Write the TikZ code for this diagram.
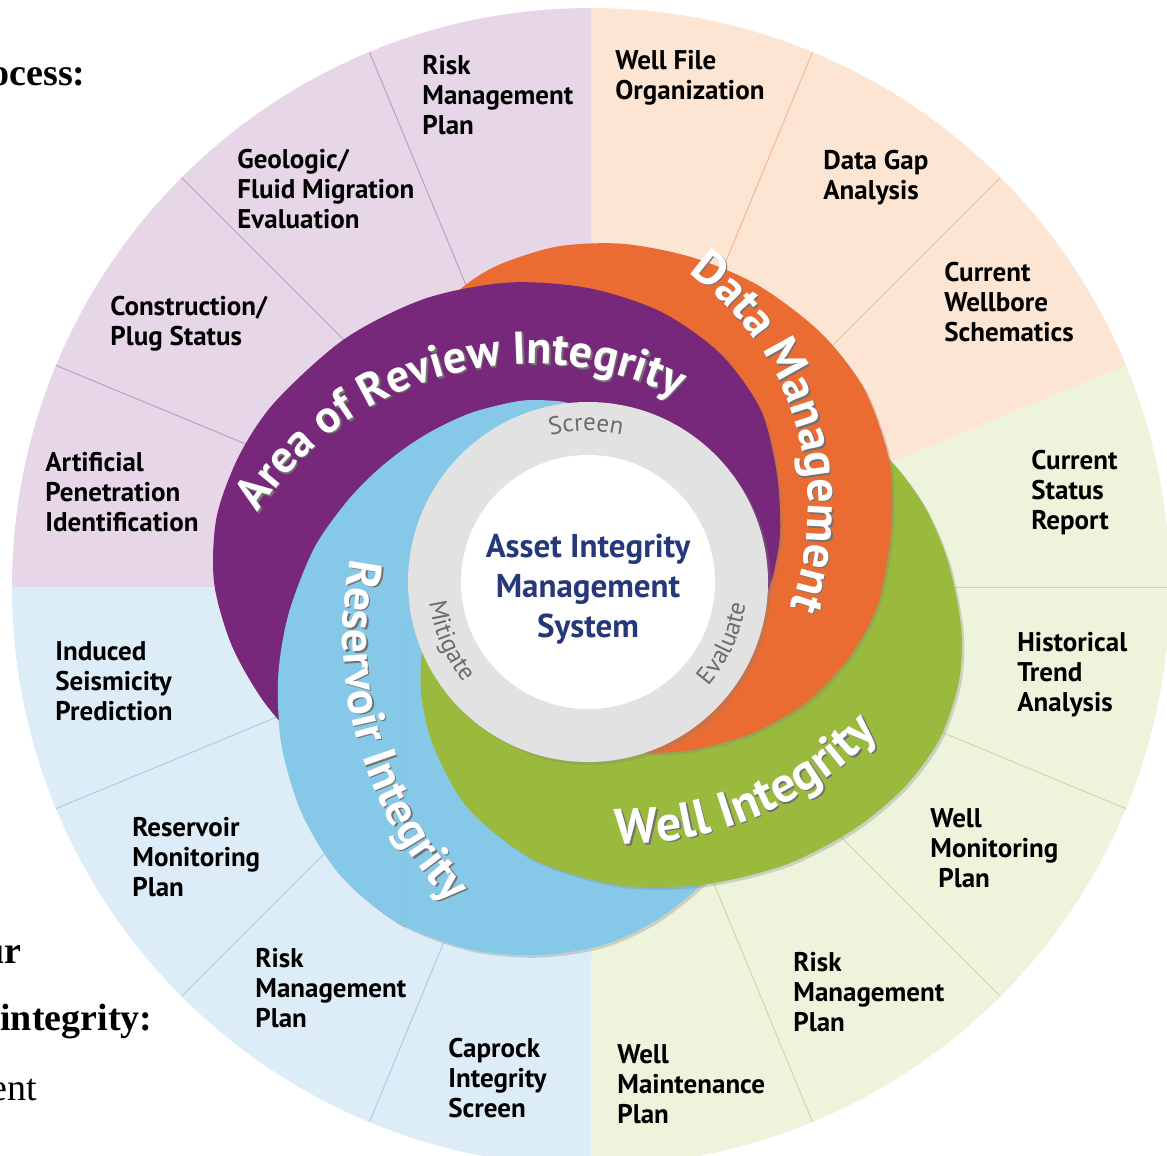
\documentclass[tikz,border=0pt]{standalone}
\usepackage{fontspec}
\newfontfamily\ptsans{PT Sans}
\newfontfamily\docserif{Liberation Serif}
\usetikzlibrary{decorations.text,shadows}

\definecolor{aorband}{RGB}{120,40,122}
\definecolor{databand}{RGB}{234,108,50}
\definecolor{wellband}{RGB}{154,186,62}
\definecolor{resband}{RGB}{134,200,232}
\definecolor{hubring}{RGB}{226,226,226}
\definecolor{aorbg}{RGB}{231,214,231}
\definecolor{aorline}{RGB}{186,162,192}
\definecolor{databg}{RGB}{253,229,211}
\definecolor{dataline}{RGB}{240,186,152}
\definecolor{wellbg}{RGB}{238,243,219}
\definecolor{wellline}{RGB}{206,216,168}
\definecolor{resbg}{RGB}{220,237,247}
\definecolor{resline}{RGB}{168,207,230}
\definecolor{coretext}{RGB}{38,56,122}
\definecolor{ringgray}{RGB}{108,108,108}

\newcommand\slicefont{\ptsans\bfseries\fontsize{13.5}{15}\selectfont}
\newcommand\ringfont{\ptsans\fontsize{12.5}{14}\selectfont}
\newcommand\docfont{\docserif\bfseries\fontsize{19}{22}\selectfont}

% outline of the blue band (polar, round the hub), used twice
\newcommand\respath{plot[smooth] coordinates {(-95:178) (-99:183) (-110:193) (-124:205)
  (-135:216) (-144:227) (-153:240) (-162:255) (-173:276) (-186:301) (-197:324) (-208:347)
  (-219:368) (-230:384) (-241:390) (-252:386) (-262:377) (-272:364) (-281:346) (-291:322)
  (-300:295)} -- (31.3:131) -- (-77.8:104) -- cycle}

\tikzset{
  slice/.style={anchor=north west, align=left, inner sep=0pt, font=\slicefont},
  divider/.style={draw=#1, line width=0.5pt},
  band/.style={fill=#1, drop shadow={opacity=.3, shadow xshift=1.2pt, shadow yshift=-1.2pt}},
  bandtext/.style 2 args={decorate, decoration={text along path, text align=center,
    text color=white, text={|\ptsans\bfseries\fontsize{#2}{#2}\selectfont|#1}}},
  bandshade/.style 2 args={decorate, decoration={text along path, text align=center,
    text color=black!55, text={|\ptsans\bfseries\fontsize{#2}{#2}\selectfont|#1}}},
  ringtext/.style={decorate, decoration={text along path, text align=center,
    text color=ringgray, text={|\ringfont|#1}}},
}

\begin{document}
\begin{tikzpicture}[x=0.5pt, y=-0.5pt]
  \useasboundingbox (0,0) rectangle (1167,1156);
  \clip (0,0) rectangle (1167,1156);
  \fill[white] (0,0) rectangle (1167,1156);
  \coordinate (hub) at (591,587);
  \coordinate (core) at (588,582);

  % outer wheel
  \fill[aorbg] (hub) -- ++(180:579) arc[start angle=180, end angle=270, radius=579] -- cycle;
  \fill[databg] (hub) -- ++(270:579) arc[start angle=270, end angle=337.5, radius=579] -- cycle;
  \fill[wellbg] (hub) -- ++(-22.5:579) arc[start angle=-22.5, end angle=90, radius=579] -- cycle;
  \fill[resbg] (hub) -- ++(90:579) arc[start angle=90, end angle=180, radius=579] -- cycle;
  \foreach \a in {-157.5,-135,-112.5}
    \draw[divider=aorline] (hub) -- ++(\a:579);
  \foreach \a in {-67.5,-45}
    \draw[divider=dataline] (hub) -- ++(\a:579);
  \foreach \a in {0,22.5,45,67.5}
    \draw[divider=wellline] (hub) -- ++(\a:579);
  \foreach \a in {112.5,135,157.5}
    \draw[divider=resline] (hub) -- ++(\a:579);

  % bands, each one tucked under the next
  \fill[band=resband, shift={(core)}] \respath;
  \fill[band=wellband, shift={(core)}] plot[smooth] coordinates {(158:178) (154:186)
    (145:203) (133:226) (118:256) (101:283) (84:305) (69:324) (55:345) (43:363) (33:377)
    (24:385) (15:384) (7:376) (-3:361) (-12:346) (-20:330) (-28:312) (-36:290)}
    -- (-30.7:200) -- (-61.4:25) -- cycle;
  \fill[band=databand, shift={(core)}] plot[smooth] coordinates {(72:178) (69:183)
    (60:195) (50:210) (40:228) (28:251) (16:272) (5:290) (-7:304) (-15:315) (-23:326)
    (-35:337) (-47:341) (-60:342) (-72:341) (-84:340) (-95:337) (-105:330) (-112:322)
    (-120:308) (-130:288)} -- (-129.3:170) -- (80:69) -- cycle;
  \fill[band=aorband, shift={(core)}] plot[smooth] coordinates {(5:178) (0:183) (-5:188)
    (-15:199) (-30:218) (-45:244) (-60:264) (-75:280) (-90:294) (-105:310) (-120:327)
    (-135:344) (-150:361) (-160:371) (-170:377) (-180:374) (-190:362) (-200:346)
    (-210:329) (-218:315)} -- (-185.5:189) -- (78.3:59) -- cycle;
  \begin{scope}
    \clip (0,0) -- (1167,0) -- (1167,620) -- (405,620) -- (405,1156) -- (0,1156) -- cycle;
    \fill[band=resband, shift={(core)}] \respath;
  \end{scope}

  % hub
  \fill[hubring, drop shadow={opacity=.3, shadow xshift=1.5pt, shadow yshift=-1.5pt}]
    (core) circle[radius=180];
  \fill[white] (core) circle[radius=127];
  \node[font=\ptsans\bfseries\fontsize{16.5}{20}\selectfont, text=coretext, align=center]
    (aims) at (588,589) {Asset Integrity\\Management\\System};
  \path[ringtext=Screen, shift={(core)}] (-130.7:151) arc[start angle=-130.7, end angle=-50.7, radius=151];
  \path[ringtext=Mitigate, shift={(core)}] (196.8:160) arc[start angle=196.8, end angle=116.8, radius=160];
  \path[ringtext=Evaluate, shift={(core)}] (64.4:159) arc[start angle=64.4, end angle=-15.6, radius=159];

  % band labels
  \path[bandshade={Area of Review Integrity}{23}, shift={(534.5,693.5)}] (-165.4:328) arc[start angle=-165.4, end angle=-45.4, radius=328];
  \path[bandtext={Area of Review Integrity}{23}, shift={(533,692)}] (-165.4:328) arc[start angle=-165.4, end angle=-45.4, radius=328];
  \path[bandshade={Data Management}{24}, shift={(521.5,508.5)}] (-77:288) arc[start angle=-77, end angle=43, radius=288];
  \path[bandtext={Data Management}{24}, shift={(520,507)}] (-77:288) arc[start angle=-77, end angle=43, radius=288];
  \path[bandshade={Well Integrity}{25}, shift={(621.5,490.5)}] (127:355) arc[start angle=127, end angle=7, radius=355];
  \path[bandtext={Well Integrity}{25}, shift={(620,489)}] (127:355) arc[start angle=127, end angle=7, radius=355];
  \path[bandshade={Reservoir Integrity}{23.5}, shift={(732.5,637.5)}] (224:388) arc[start angle=224, end angle=104, radius=388];
  \path[bandtext={Reservoir Integrity}{23.5}, shift={(731,636)}] (224:388) arc[start angle=224, end angle=104, radius=388];

  % slice labels
  \node[slice] (aor-risk) at (422,55) {Risk\\Management\\Plan};
  \node[slice] (aor-geo) at (237,149) {Geologic/\\Fluid Migration\\Evaluation};
  \node[slice] (aor-plug) at (110,296) {Construction/\\Plug Status};
  \node[slice] (aor-pen) at (45,452) {Artificial\\Penetration\\Identification};
  \node[slice] (dm-file) at (615,50) {Well File\\Organization};
  \node[slice] (dm-gap) at (823,150) {Data Gap\\Analysis};
  \node[slice] (dm-bore) at (944,262) {Current\\Wellbore\\Schematics};
  \node[slice] (wi-status) at (1031,450) {Current\\Status\\Report};
  \node[slice] (wi-trend) at (1017,632) {Historical\\Trend\\Analysis};
  \node[slice] (wi-monitor) at (930,808) {Well\\Monitoring\\\hspace*{4pt}Plan};
  \node[slice] (wi-risk) at (793,952) {Risk\\Management\\Plan};
  \node[slice] (wi-maint) at (617,1044) {Well\\Maintenance\\Plan};
  \node[slice] (ri-seis) at (55,641) {Induced\\Seismicity\\Prediction};
  \node[slice] (ri-monitor) at (132,817) {Reservoir\\Monitoring\\Plan};
  \node[slice] (ri-risk) at (255,948) {Risk\\Management\\Plan};
  \node[slice] (ri-caprock) at (448,1038) {Caprock\\Integrity\\Screen};

  % text of the page around the figure
  \node[font=\docfont, anchor=base east, inner sep=0pt] (frag1) at (86,86) {ocess:};
  \node[font=\docfont, anchor=base east, inner sep=0pt] (frag2) at (22,963) {ur};
  \node[font=\docfont, anchor=base west, inner sep=0pt] (frag3) at (0,1030) {integrity:};
  \node[font=\docserif\fontsize{19}{22}\selectfont, anchor=base east, inner sep=0pt] (frag4) at (37,1100) {ent};
\end{tikzpicture}
\end{document}
